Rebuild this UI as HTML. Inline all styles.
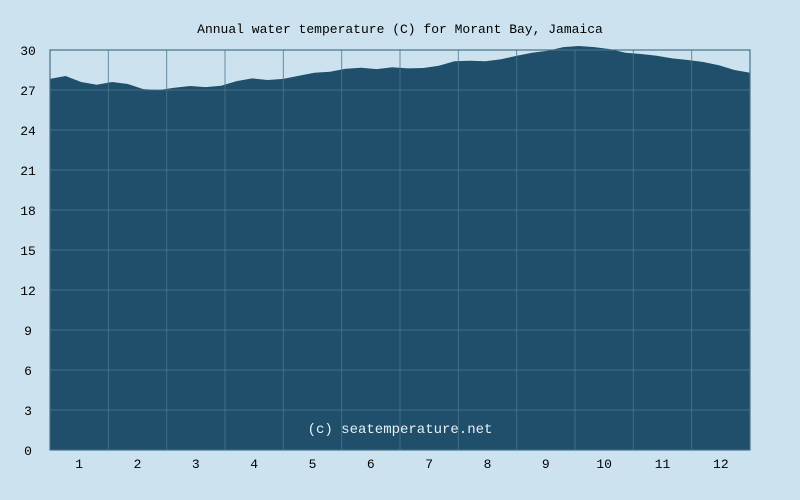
<!DOCTYPE html>
<html><head><meta charset="utf-8"><style>
html,body{margin:0;padding:0;background:#cce3ef;}
svg{display:block;font-family:"Liberation Mono","DejaVu Sans Mono",monospace;}
</style></head><body>
<svg width="800" height="500">
<rect width="800" height="500" fill="#cce3ef"/>
<text x="400" y="33" text-anchor="middle" font-size="13" fill="#000">Annual water temperature (C) for Morant Bay, Jamaica</text>
<g id="plot"></g>
</svg>
<script>
const temps=[27.83,28.05,27.6,27.4,27.6,27.45,27.07,27.0,27.17,27.3,27.22,27.32,27.67,27.87,27.75,27.83,28.07,28.3,28.37,28.6,28.67,28.57,28.7,28.62,28.65,28.82,29.15,29.2,29.15,29.3,29.57,29.8,29.95,30.22,30.3,30.22,30.07,29.8,29.7,29.57,29.37,29.25,29.1,28.85,28.5,28.3];
const yTicks=[0,3,6,9,12,15,18,21,24,27,30];
const months=["1","2","3","4","5","6","7","8","9","10","11","12"];
const X0=50,X1=750,Y0=450,Y1=50,YMAX=30;
const ns="http://www.w3.org/2000/svg";
const g=document.getElementById('plot');
function sx(i){return X0+i*(X1-X0)/(temps.length-1);}
function sy(v){return Y0-(v/YMAX)*(Y0-Y1);}
function mk(t,a){const e=document.createElementNS(ns,t);for(const k in a)e.setAttribute(k,a[k]);g.appendChild(e);return e;}
let pts=`${X0},${Y0} `+temps.map((v,i)=>`${sx(i).toFixed(1)},${sy(v).toFixed(1)}`).join(' ')+` ${X1},${Y0}`;
const area=mk('polygon',{points:pts,fill:'#1f4f6b'});


yTicks.forEach(v=>{
  const y=sy(v);
  const l=mk('line',{x1:X0,x2:X1,y1:y,y2:y,stroke:'#4a7690','stroke-width':1,'stroke-opacity':0.8});
  
  
  const t=mk('text',{x:28,y:y+5,'text-anchor':'middle','font-size':13,fill:'#000'});
  t.textContent=v;
  
  
});
const mw=(X1-X0)/months.length;
months.forEach((m,i)=>{
  if(i>0){const l=mk('line',{x1:X0+i*mw,x2:X0+i*mw,y1:Y1,y2:Y0,stroke:'#4a7690','stroke-width':1,'stroke-opacity':0.8});
  
  }
  const t=mk('text',{x:X0+(i+0.5)*mw,y:468,'text-anchor':'middle','font-size':13,fill:'#000'});
  t.textContent=m;
  
  
});
const b=mk('rect',{x:X0,y:Y1,width:X1-X0,height:Y0-Y1,fill:'none',stroke:'#46708a','stroke-width':1.2});


const w=mk('text',{x:400,y:433,'text-anchor':'middle','font-size':14,fill:'#e8f0f5'});
w.textContent='(c) seatemperature.net';


</script>
</body></html>
